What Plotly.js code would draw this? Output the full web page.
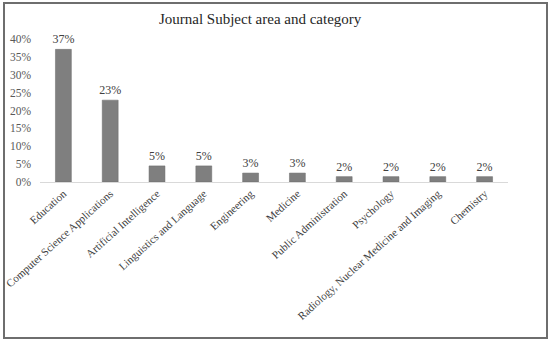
<!DOCTYPE html>
<html>
<head>
<meta charset="utf-8">
<script src="https://cdn.plot.ly/plotly-3.0.1.min.js"></script>
<style>
  html, body { margin: 0; padding: 0; background: #fff; }
  #wrap { position: relative; width: 550px; height: 341px; }
  #chart { position: absolute; left: 0; top: 0; width: 550px; height: 341px; }
  #frame { position: absolute; left: 3px; top: 2px; width: 541px; height: 333px; border: 2px solid #6e6e6e; pointer-events: none; }
</style>
</head>
<body>
<div id="wrap">
  <div id="chart"></div>
  <div id="frame"></div>
</div>
<script>
const categories = [
  "Education",
  "Computer Science Applications",
  "Artificial Intelligence",
  "Linguistics and Language",
  "Engineering",
  "Medicine",
  "Public Administration",
  "Psychology",
  "Radiology, Nuclear Medicine and Imaging",
  "Chemistry"
];
const shares = [0.371, 0.229, 0.045, 0.045, 0.025, 0.025, 0.015, 0.015, 0.015, 0.015];
const shareLabels = ["37%", "23%", "5%", "5%", "3%", "3%", "2%", "2%", "2%", "2%"];
const yTickVals = [0, 0.05, 0.10, 0.15, 0.20, 0.25, 0.30, 0.35, 0.40];
const yTickText = ["0%", "5%", "10%", "15%", "20%", "25%", "30%", "35%", "40%"];

const font = "Liberation Serif";

Plotly.newPlot("chart", [{
  type: "bar",
  x: categories,
  y: shares,
  text: shareLabels,
  textposition: "outside",
  constraintext: "none",
  cliponaxis: false,
  textfont: { family: font, size: 12, color: "#404040" },
  marker: { color: "#7f7f7f", line: { color: "#6a6a6a", width: 0.5 } },
  hoverinfo: "none"
}], {
  width: 550,
  height: 341,
  margin: { l: 40, r: 42, t: 39, b: 159 },
  paper_bgcolor: "#ffffff",
  plot_bgcolor: "#ffffff",
  bargap: 0.66,
  showlegend: false,
  font: { family: font, size: 12, color: "#595959" },
  title: {
    text: "Journal Subject area and category",
    font: { family: font, size: 15, color: "#262626" },
    x: 0.473, xanchor: "center",
    y: 0.944, yanchor: "middle",
    yref: "container"
  },
  xaxis: {
    type: "category",
    tickangle: -42,
    showgrid: false,
    showline: true,
    linecolor: "#d9d9d9",
    linewidth: 1,
    ticks: "",
    tickfont: { family: font, size: 11, color: "#404040" },
    automargin: false
  },
  yaxis: {
    range: [0, 0.4],
    tickvals: yTickVals,
    ticktext: yTickText,
    showgrid: false,
    zeroline: false,
    showline: false,
    ticks: "",
    ticklabelstandoff: 8,
    tickfont: { family: font, size: 11.5, color: "#595959" },
    automargin: false
  }
}, { staticPlot: true, displayModeBar: false });
</script>
</body>
</html>
